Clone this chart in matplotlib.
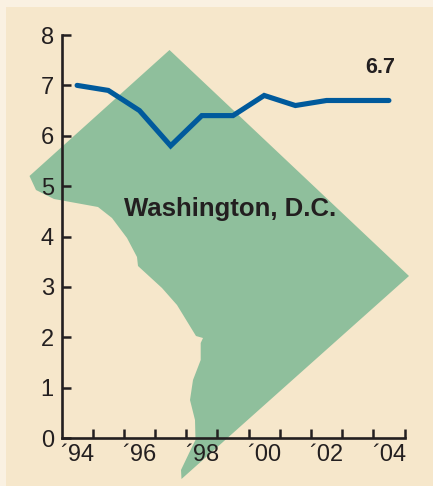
import matplotlib
matplotlib.use("Agg")
import matplotlib.pyplot as plt
from matplotlib.patches import Polygon, Rectangle
from matplotlib.transforms import Affine2D

plt.rcParams['font.family'] = ['Liberation Sans Narrow', 'Liberation Sans', 'DejaVu Sans']

years = [1994, 1995, 1996, 1997, 1998, 1999, 2000, 2001, 2002, 2003, 2004]
values = [7.0, 6.9, 6.5, 5.8, 6.4, 6.4, 6.8, 6.6, 6.7, 6.7, 6.7]
y_ticks = [0, 1, 2, 3, 4, 5, 6, 7, 8]
label_years = [1994, 1996, 1998, 2000, 2002, 2004]
label_text = ["´94", "´96", "´98", "´00", "´02", "´04"]
boundary_ticks = [1993.5 + i for i in range(1, 12)]

# decorative map outline, traced in image pixels
map_outline = [(29.5, 176), (169.5, 50), (409, 276), (181.5, 479), (181, 470), (192, 447),
               (195.5, 440), (195, 420), (190, 400), (193, 380), (200.7, 360), (200.7, 343),
               (203, 338), (196, 336), (177, 305), (162, 288), (138, 266), (137, 257),
               (127, 238), (112, 218), (98, 207), (54, 199), (36, 190)]

W, H = 433, 486
fig = plt.figure(figsize=(W / 100, H / 100), dpi=100, facecolor='#FAF1E2')
to_fig = Affine2D().scale(1, -1).translate(0, H)

fig.patches.append(Rectangle((6, 0), W - 6, H - 7, transform=None,
                             facecolor='#F6E7CB', edgecolor='none', figure=fig))
fig.patches.append(Polygon(map_outline, closed=True, transform=to_fig,
                           facecolor='#8FBF9C', edgecolor='none', figure=fig))

ax = fig.add_axes([61.5 / W, 48 / H, 343 / W, 403 / H])
ax.set_zorder(5)
ax.patch.set_visible(False)
ax.set_xlim(1993.5, 2004.5)
ax.set_ylim(0, 8)

ax.plot(years, values, color='#005A9C', lw=3.7, solid_capstyle='round',
        solid_joinstyle='miter', clip_on=False)

for s in ('top', 'right'):
    ax.spines[s].set_visible(False)
for s in ('left', 'bottom'):
    ax.spines[s].set_linewidth(1.9)
    ax.spines[s].set_color('#231F20')
    ax.spines[s].set_capstyle('projecting')

ax.set_yticks(y_ticks)
ax.tick_params(axis='y', direction='in', length=6.2, width=1.8, color='#231F20',
               labelsize=17, labelcolor='#231F20', pad=5.5)
ax.set_xticks(label_years)
ax.set_xticklabels(label_text)
ax.set_xticks(boundary_ticks, minor=True)
ax.tick_params(axis='x', which='major', length=0, labelsize=17, labelcolor='#231F20', pad=4)
ax.tick_params(axis='x', which='minor', direction='in', length=6.8, width=1.8, color='#231F20')

ax.text(2004.2, 7.14, "6.7", ha='right', va='bottom', fontsize=15.5, fontweight='bold', color='#231F20')
ax.text(1998.9, 4.55, "Washington, D.C.", ha='center', va='center', fontsize=18.5,
        fontweight='bold', color='#231F20')

fig.savefig("out.png", dpi=100, facecolor=fig.get_facecolor())
